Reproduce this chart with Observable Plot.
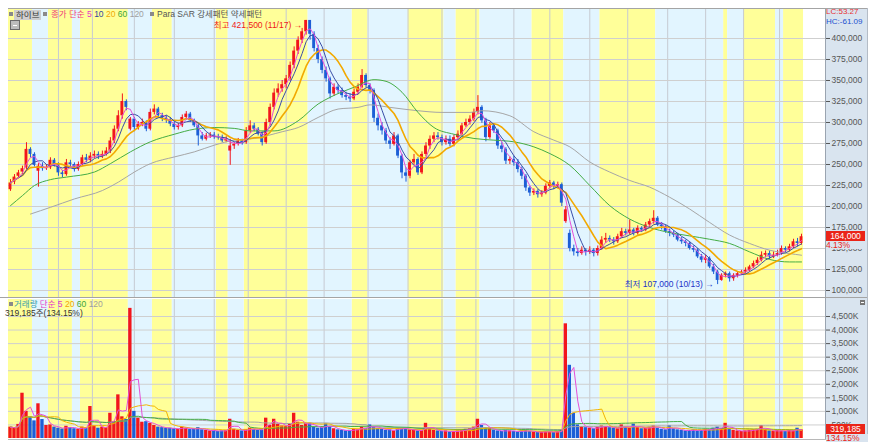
<!DOCTYPE html>
<html lang="ko"><head><meta charset="utf-8">
<script src="https://cdn.jsdelivr.net/npm/d3@7"></script>
<script src="https://cdn.jsdelivr.net/npm/@observablehq/plot@0.6"></script>
<style>
html,body{margin:0;padding:0;background:#fff;}
#wrap{position:relative;width:875px;height:447px;overflow:hidden;font-family:'Liberation Sans','Noto Sans CJK KR',sans-serif;font-size:8.5px;}
.a{position:absolute;white-space:nowrap;line-height:9px;}
</style></head><body><div id="wrap">
<div style="position:absolute;left:825px;top:8px;width:41px;height:432px;background:#d9e4ef;border-left:1px solid #9aa4b0;border-right:1px solid #b4bcc6"></div>
</div>
<script>
// ---- price data (thousand KRW), one candle per two trading days ----
const open = [
220,229,236,241,246,268,262,242,248,245,
246,255,250,240,238,252,250,244,250,258,
255,260,262,260,262,266,278,292,308,325,
292,304,294,298,300,292,312,316,308,305,
303,298,294,296,306,310,302,296,284,280,
284,285,283,282,278,266,272,274,278,276,
290,296,292,286,276,300,318,335,340,345,
352,368,385,398,408,421.5,405,388,375,362,
352,334,342,338,332,330,328,336,342,356,
344,338,305,296,290,278,274,284,260,240,
236,252,256,240,262,272,280,284,282,276,
280,274,282,286,296,300,304,312,318,302,
282,296,290,272,268,254,256,252,244,236,
222,216,218,214,216,224,228,224,226,182,
168,150,146,144,148,146,148,144,150,160,
162,160,158,164,170,168,172,168,174,172,
178,182,186,178,176,170,168,166,160,158,
156,150,148,140,136,138,128,122,112,118,
120,114,118,120,122,124,128,132,136,142,
144,140,142,144,150,148,152,158,156];
const high = [
232,238,243,248,276,270,264,251,252,250,
258,257,252,243,256,255,252,253,261,262,
264,266,265,266,270,282,296,314,334,327,
306,306,301,304,302,316,321,318,311,308,
306,301,299,309,313,312,304,298,288,287,
288,288,286,285,283,280,276,281,280,294,
302,299,294,289,304,322,340,346,350,356,
372,390,402,412,421.5,418,408,392,378,366,
354,346,345,341,336,334,340,346,363,358,
346,340,310,300,293,282,288,286,262,246,
255,262,258,265,276,284,288,288,285,284,
284,285,290,299,304,308,316,332,320,305,
300,298,292,276,270,259,260,256,247,238,
224,221,220,219,227,231,230,229,228,200,
172,154,150,152,150,152,150,153,164,168,
165,163,167,174,173,184,174,177,176,181,
185,195,188,181,178,173,171,168,163,160,
158,153,150,143,142,140,131,124,120,122,
122,120,122,124,127,130,135,139,146,147,
147,146,148,153,152,155,161,162,167];
const low = [
218,226,233,238,244,258,247,223,242,243,
244,247,236,234,236,246,241,242,248,252,
252,257,256,257,260,263,275,289,304,314,
290,289,291,295,289,290,309,305,301,299,
295,291,291,294,303,300,294,272,278,278,
281,280,279,276,276,249,268,272,273,274,
287,289,284,272,274,296,315,330,336,340,
349,364,381,394,404,398,384,370,358,348,
328,331,334,329,326,324,326,333,340,341,
334,300,290,285,274,268,272,257,233,229,
233,249,237,238,259,268,276,279,272,273,
271,271,280,284,294,297,301,309,299,277,
280,287,268,264,250,250,248,240,232,218,
212,213,210,211,214,221,220,221,200,180,
146,141,140,142,141,143,140,141,148,156,
157,154,156,162,165,166,165,166,169,170,
175,179,176,172,168,164,163,158,155,152,
148,145,138,133,132,126,119,107,111,115,
110,111,115,118,120,122,126,130,134,139,
137,138,140,142,145,146,150,152,154];
const close = [
228,235,240,245,268,262,249,248,245,246,
255,250,240,238,252,250,244,250,258,255,
260,262,260,262,266,278,292,308,325,318,
304,294,298,300,292,312,316,308,305,303,
298,294,296,306,310,302,296,284,280,284,
285,283,282,278,280,272,274,278,276,290,
296,292,286,276,300,318,335,340,345,352,
368,385,398,408,421.5,405,388,375,362,352,
334,342,338,332,330,328,336,342,356,344,
338,305,296,290,278,274,284,260,240,236,
252,256,240,262,272,280,284,282,276,280,
274,282,286,296,300,304,312,318,302,282,
296,290,272,268,254,256,252,244,236,222,
216,218,214,216,224,228,224,226,204,196,
150,146,144,148,146,148,144,150,160,162,
160,158,164,170,168,172,168,174,172,178,
182,186,178,176,170,168,166,160,158,156,
150,148,140,136,138,128,122,112,118,120,
114,118,120,122,124,128,132,136,142,144,
140,142,144,150,148,152,158,156,164];
// volume (thousand shares)
const volume = [
420,380,520,1670,1000,800,650,1280,700,480,
500,420,380,350,450,400,360,340,420,380,
1180,460,380,420,400,930,620,1610,800,700,
4800,1000,750,600,620,560,480,420,400,380,
380,360,340,420,380,330,350,400,320,300,
280,300,260,280,300,710,340,300,280,320,
380,340,300,320,750,480,710,520,460,440,
520,930,600,480,560,560,420,380,400,540,
420,360,320,300,280,300,340,320,420,380,
500,420,360,340,300,320,280,400,380,340,
320,300,280,300,560,340,300,280,260,280,
240,260,280,300,340,360,420,710,480,400,
360,300,280,260,300,280,260,240,280,300,
260,240,220,240,260,240,220,260,300,4230,
2700,930,500,440,400,380,360,420,460,440,
400,380,360,500,420,380,530,400,360,380,
420,460,380,340,320,470,360,320,300,280,
300,320,280,300,340,320,380,420,360,560,
340,300,280,260,280,300,320,340,470,320,
280,260,300,280,260,300,280,380,319.185];
// 60- and 120-day moving averages (candle index, thousand KRW)
const ma60Idx = [0,3,6,10,14,21,25,30,35,41,46,51,56,60,66,72,77,80,86,91,94,98,102,106,111,116,121,126,131,135,140,145,150,155,160,165,170,175,180,185,190,195,198];
const ma60Val = [201,213,225,232,235,241,251,265,277,286,292,294,293,290,290,302,322,330,342,351,349,336,312,294,286,281,279,277,271,263,249,225,201,185,175,169,165,161,156,146,137,134,134];
const ma120Idx = [5,10,16,23,27,31,35,41,46,51,56,61,68,72,77,82,87,90,95,102,108,115,118,125,131,136,140,145,150,155,160,165,170,175,180,185,190,195,198];
const ma120Val = [191,199,209,219,229,241,251,259,265,273,279,281,289,294,306,316,318,321,318,314,312,312,314,308,289,279,271,253,241,231,223,211,197,181,166,156,148,144,142];
// Para SAR regimes (start candle index) and month boundaries
const bandStart = [0,6,10,16,18,30,36,41,52,55,59,75,86,90,100,109,112,118,131,139,148,162,179,180,184,192,194];
const bandKind = ["강세","약세","강세","약세","강세","약세","강세","약세","강세","약세","강세","약세","강세","약세","강세","약세","강세","약세","강세","약세","강세","약세","강세","약세","강세","약세","강세"];
const monthIdx = [12,20.5,31,41,51,59.5,69,78.5,89.5,99.5,108,116.5,126,135,145,154.5,164.5,174,183.5,192.5];
const priceTicks = [100,125,150,175,200,225,250,275,300,325,350,375,400];
const volTicks = [500,1000,1500,2000,2500,3000,3500,4000,4500];
const highDate = "11/17", lowDate = "10/13";
const stockName = "하이브";
const changePct = "4.13%", volRatio = "134.15%";
const lcText = "LC:53.27", hcText = "HC:-61.09";

const N = close.length;
const candles = d3.range(N).map(i => ({i, o: open[i], h: high[i], l: low[i], c: close[i], v: volume[i]}));
const isUp = d => d.c >= d.o;
const ups = candles.filter(isUp), downs = candles.filter(d => !isUp(d));
const bands = bandStart.map((s, k) => ({s, e: (k + 1 < bandStart.length ? bandStart[k + 1] : N) - 1, kind: bandKind[k]}));
const RED = "#f2161c", BLUE = "#1c5ed6", YEL = "#ffff99", LBL = "#e2f5ff";
const FONT = "'Liberation Sans','Noto Sans CJK KR',sans-serif";
const fmt = d3.format(",");
const xOpt = {domain: [-0.5, N - 0.5 + 5.5], axis: null};
const bandMarks = [
  Plot.rect(bands.filter(b => b.kind === "강세"), {x1: d => d.s - 0.5, x2: d => d.e + 0.5, fill: YEL}),
  Plot.rect(bands.filter(b => b.kind === "약세"), {x1: d => d.s - 0.5, x2: d => d.e + 0.5, fill: LBL}),
  Plot.ruleX(monthIdx, {stroke: "#c6cad2", strokeWidth: 1})
];
const style = {background: "none", fontFamily: FONT, fontSize: "8.5px", color: "#555", overflow: "visible"};

const maxI = d3.maxIndex(high), minI = d3.minIndex(low);
const price = Plot.plot({
  width: 875, height: 297, marginTop: 8, marginBottom: 0, marginLeft: 8, marginRight: 50,
  style, x: xOpt,
  y: {domain: [91.67, 435.71], axis: "right", ticks: priceTicks, tickFormat: d => fmt(d * 1000), tickSize: 4, tickPadding: 2, label: null},
  marks: [
    ...bandMarks,
    Plot.ruleY(priceTicks, {stroke: "#cfcfcf"}),
    Plot.ruleX(ups, {x: "i", y1: "l", y2: "h", stroke: RED}),
    Plot.ruleX(downs, {x: "i", y1: "l", y2: "h", stroke: BLUE}),
    Plot.rect(ups, {x1: d => d.i - 0.36, x2: d => d.i + 0.36, y1: "o", y2: d => Math.max(d.c, d.o + 0.6), fill: RED}),
    Plot.rect(downs, {x1: d => d.i - 0.36, x2: d => d.i + 0.36, y1: "o", y2: "c", fill: BLUE}),
    Plot.line(ma120Idx.map((x, k) => ({x, y: ma120Val[k]})), {x: "x", y: "y", curve: "monotone-x", stroke: "#a6a6a6", strokeWidth: 1}),
    Plot.line(ma60Idx.map((x, k) => ({x, y: ma60Val[k]})), {x: "x", y: "y", curve: "monotone-x", stroke: "#45ad45", strokeWidth: 1}),
    Plot.lineY(candles, Plot.windowY({k: 10, anchor: "end"}, {x: "i", y: "c", stroke: "#f2a900", strokeWidth: 1.6})),
    Plot.lineY(candles, Plot.windowY({k: 5, anchor: "end"}, {x: "i", y: "c", stroke: "#3a4ea8", strokeWidth: 1})),
    Plot.lineY(candles, Plot.windowY({k: 3, anchor: "end"}, {x: "i", y: "c", stroke: "#e64fd8", strokeWidth: 1})),
    Plot.text([{i: maxI, v: high[maxI]}], {x: "i", y: "v", text: d => `최고 ${fmt(d.v * 1000)} (${highDate}) →`, textAnchor: "end", dx: -4, dy: 5, fill: "#f01818", fontSize: 8.5}),
    Plot.text([{i: minI, v: low[minI]}], {x: "i", y: "v", text: d => `최저 ${fmt(d.v * 1000)} (${lowDate}) →`, textAnchor: "end", dx: -4, dy: 0, fill: "#2233c8", fontSize: 8.5})
  ]
});
const vol = Plot.plot({
  width: 875, height: 150, marginTop: 2, marginBottom: 9, marginLeft: 8, marginRight: 50,
  style, x: xOpt,
  y: {domain: [0, 5127], axis: "right", ticks: volTicks, tickFormat: d => fmt(d) + "K", tickSize: 4, tickPadding: 2, label: null},
  marks: [
    ...bandMarks,
    Plot.ruleY(volTicks, {stroke: "#cfcfcf"}),
    Plot.rectY(ups, {x1: d => d.i - 0.42, x2: d => d.i + 0.42, y: "v", fill: RED}),
    Plot.rectY(downs, {x1: d => d.i - 0.42, x2: d => d.i + 0.42, y: "v", fill: BLUE}),
    Plot.lineY(candles, Plot.windowY({k: 60, anchor: "end"}, {x: "i", y: "v", stroke: "#a6a6a6", strokeWidth: 1})),
    Plot.lineY(candles, Plot.windowY({k: 30, anchor: "end"}, {x: "i", y: "v", stroke: "#45ad45", strokeWidth: 1})),
    Plot.lineY(candles, Plot.windowY({k: 10, anchor: "end"}, {x: "i", y: "v", stroke: "#f2b400", strokeWidth: 1})),
    Plot.lineY(candles, Plot.windowY({k: 3, anchor: "end"}, {x: "i", y: "v", stroke: "#e64fd8", strokeWidth: 1}))
  ]
});
const wrap = document.getElementById("wrap");
for (const [svg, top] of [[price, 0], [vol, 297]]) {
  svg.style.position = "absolute"; svg.style.left = "0px"; svg.style.top = top + "px";
  wrap.appendChild(svg);
}
function add(html, css) { const d = document.createElement("div"); d.className = "a"; d.innerHTML = html; d.style.cssText += css; wrap.appendChild(d); return d; }
// frame lines
add("", "left:8px;top:8px;width:859px;height:1px;background:#a4a4a4");
add("", "left:0px;top:297px;width:867px;height:1px;background:#a4a4a4");
add("", "left:8px;top:439px;width:859px;height:1px;background:#b8b8b8");
// price legend
add("", "left:9px;top:12px;width:4px;height:4px;background:#8a8a8a");
add(stockName, "left:14px;top:9.5px;height:10px;line-height:10px;padding:0 2px;background:#cfcfcf;color:#333");
add("", "left:43px;top:12px;width:4px;height:4px;background:#8a8a8a");
add(`<span style="color:#f0407a">종가 단순 </span><span style="color:#e535c8">5</span> <span style="color:#34459f">10</span> <span style="color:#f0a800">20</span> <span style="color:#3aa53a">60</span> <span style="color:#a0a0a0">120</span>`, "left:51px;top:10px");
add("", "left:150px;top:12px;width:4px;height:4px;background:#8a8a8a");
add("Para SAR 강세패턴 약세패턴", "left:157px;top:10px;color:#555");
add("<div style='position:absolute;left:2px;top:3.5px;width:4px;height:1px;background:#fff'></div>", "left:10px;top:20px;width:8px;height:8px;background:#bdbdbd;border:1px solid #6a6a6a");
// right labels
add(lcText, "left:826px;top:8px;line-height:8px;font-size:8px;color:#e83030");
add(hcText, "left:826px;top:18px;line-height:8px;font-size:8px;color:#2050d0");
const yP = price.scale("y").apply(close[N - 1]);
add(fmt(close[N - 1] * 1000), `left:826px;top:${yP - 5}px;width:39px;height:10px;line-height:10px;background:#ea2418;color:#fff;text-align:center`);
add(changePct, `left:826px;top:${yP + 5}px;line-height:8px;padding-right:14px;background:#d9e4ef;color:#ea2418`);
// volume legend
add("", "left:9px;top:302px;width:4px;height:4px;background:#8a8a8a");
add(`<span style="color:#3a9fa8">거래량</span> <span style="color:#e535c8">단순 5</span> <span style="color:#f0a800">20</span> <span style="color:#3aa53a">60</span> <span style="color:#a0a0a0">120</span>`, "left:14px;top:299.5px");
add(`${fmt(Math.round(volume[N - 1] * 1000))}주(${volRatio})`, "left:5px;top:309px;color:#333");
add("<div style='position:absolute;left:1px;top:2px;width:3px;height:1px;background:#fff'></div>", "left:860px;top:300px;width:5px;height:5px;background:#777");
const yV = 297 + vol.scale("y").apply(volume[N - 1]);
add(fmt(Math.round(volume[N - 1] * 1000)), `left:826px;top:${yV - 5}px;width:39px;height:10px;line-height:10px;background:#ea2418;color:#fff;text-align:center`);
add(volRatio, `left:826px;top:${yV + 5}px;line-height:8px;padding-right:8px;background:#d9e4ef;color:#ea2418`);
</script></body></html>
